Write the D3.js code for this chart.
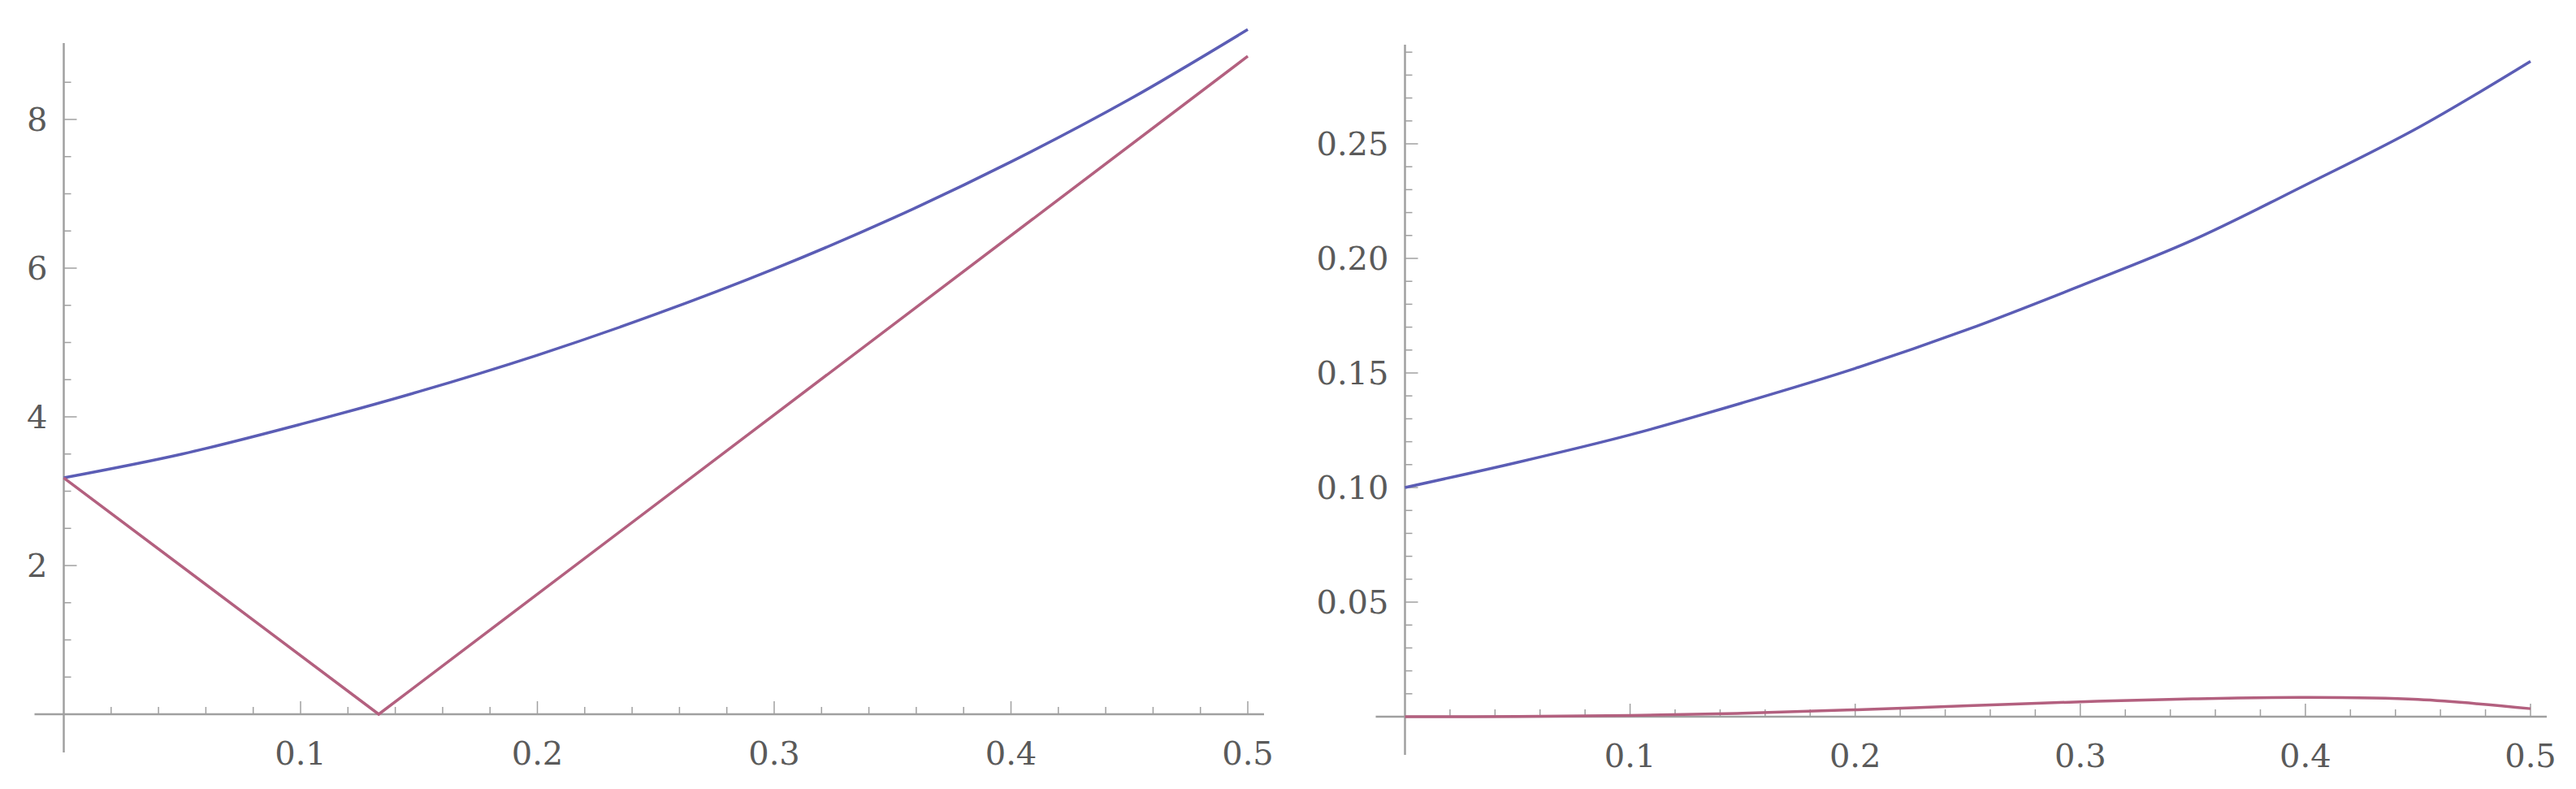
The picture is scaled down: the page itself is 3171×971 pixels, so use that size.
<!DOCTYPE html>
<html><head><meta charset="utf-8">
<script src="https://cdn.jsdelivr.net/npm/d3@7"></script>
<style>body{margin:0;background:#fff}</style></head>
<body><svg id="c" width="3171" height="971"></svg>
<script>
const xs = [0,0.05,0.1,0.15,0.2,0.25,0.3,0.35,0.4,0.45,0.5];
const leftBlue = [3.18,3.50,3.90,4.34,4.83,5.38,5.99,6.67,7.43,8.27,9.21];
const leftPinkX = [0,0.133,0.5];
const leftPink = [3.18,0,8.85];
const rightBlue = [0.100,0.111,0.123,0.137,0.152,0.169,0.188,0.208,0.232,0.257,0.286];
const rightPink = [0,0.0001,0.0005,0.0015,0.003,0.0048,0.0065,0.0078,0.0084,0.0075,0.0035];
const xTicks = [0.1,0.2,0.3,0.4,0.5];
const leftYTicks = [2,4,6,8];
const rightYTicks = [0.05,0.10,0.15,0.20,0.25];

const svg = d3.select("#c");
const BLUE="#5b5db5", PINK="#b3607f", AX="#a0a0a0", TXT="#5a5a5a", FONT="DejaVu Serif";

function panel(o){
  const x = d3.scaleLinear().domain([0,0.5]).range([o.x0,o.x1]);
  const y = d3.scaleLinear().domain([0,o.ymax]).range([o.y0,o.y1]);
  const g = svg.append("g");
  g.append("line").attr("x1",x(0)-36).attr("x2",x(0.5)+20).attr("y1",y(0)).attr("y2",y(0)).attr("stroke",AX).attr("stroke-width",2.5);
  g.append("line").attr("x1",x(0)).attr("x2",x(0)).attr("y1",y(0)+47).attr("y2",o.yTop).attr("stroke",AX).attr("stroke-width",2.5);
  d3.range(0.02,0.501,0.02).forEach(t=>{
    const maj = xTicks.some(v=>Math.abs(v-t)<1e-6);
    g.append("line").attr("x1",x(t)).attr("x2",x(t)).attr("y1",y(0)).attr("y2",y(0)-(maj?16:9)).attr("stroke",AX).attr("stroke-width",1.5);
  });
  g.append("line").attr("x1",x(0)).attr("x2",x(0)).attr("y1",y(0)).attr("y2",y(0)-16).attr("stroke",AX);
  xTicks.forEach(t=>g.append("text").attr("x",x(t)).attr("y",y(0)+62).attr("text-anchor","middle")
    .attr("font-family",FONT).attr("font-size",40).attr("fill",TXT).text(d3.format(".1f")(t)));
  d3.range(o.minor,o.ymax,o.minor).forEach(t=>{
    const maj = o.ticks.some(v=>Math.abs(v-t)<1e-9);
    g.append("line").attr("x1",x(0)).attr("x2",x(0)+(maj?16:9)).attr("y1",y(t)).attr("y2",y(t)).attr("stroke",AX).attr("stroke-width",1.5);
  });
  o.ticks.forEach(t=>g.append("text").attr("x",x(0)-20).attr("y",y(t)+14).attr("text-anchor","end")
    .attr("font-family",FONT).attr("font-size",40).attr("fill",TXT).text(o.fmt(t)));
  const line = d3.line().x(d=>x(d[0])).y(d=>y(d[1])).curve(d3.curveCatmullRom);
  o.series.forEach(s=>g.append("path").attr("d",(s.curve?line:d3.line().x(d=>x(d[0])).y(d=>y(d[1])))(s.pts))
    .attr("fill","none").attr("stroke",s.c).attr("stroke-width",3.5));
}
panel({x0:78.5,x1:1536,y0:879,y1:879-91.5*9,ymax:9,yTop:53,minor:0.5,ticks:leftYTicks,fmt:d3.format("d"),
  series:[{c:BLUE,curve:true,pts:xs.map((v,i)=>[v,leftBlue[i]])},{c:PINK,curve:false,pts:leftPinkX.map((v,i)=>[v,leftPink[i]])}]});
panel({x0:1729.5,x1:3115,y0:882,y1:882-141*6,ymax:0.3,yTop:55,minor:0.01,ticks:rightYTicks,fmt:d3.format(".2f"),
  series:[{c:BLUE,curve:true,pts:xs.map((v,i)=>[v,rightBlue[i]])},{c:PINK,curve:true,pts:xs.map((v,i)=>[v,rightPink[i]])}]});
</script></body></html>
